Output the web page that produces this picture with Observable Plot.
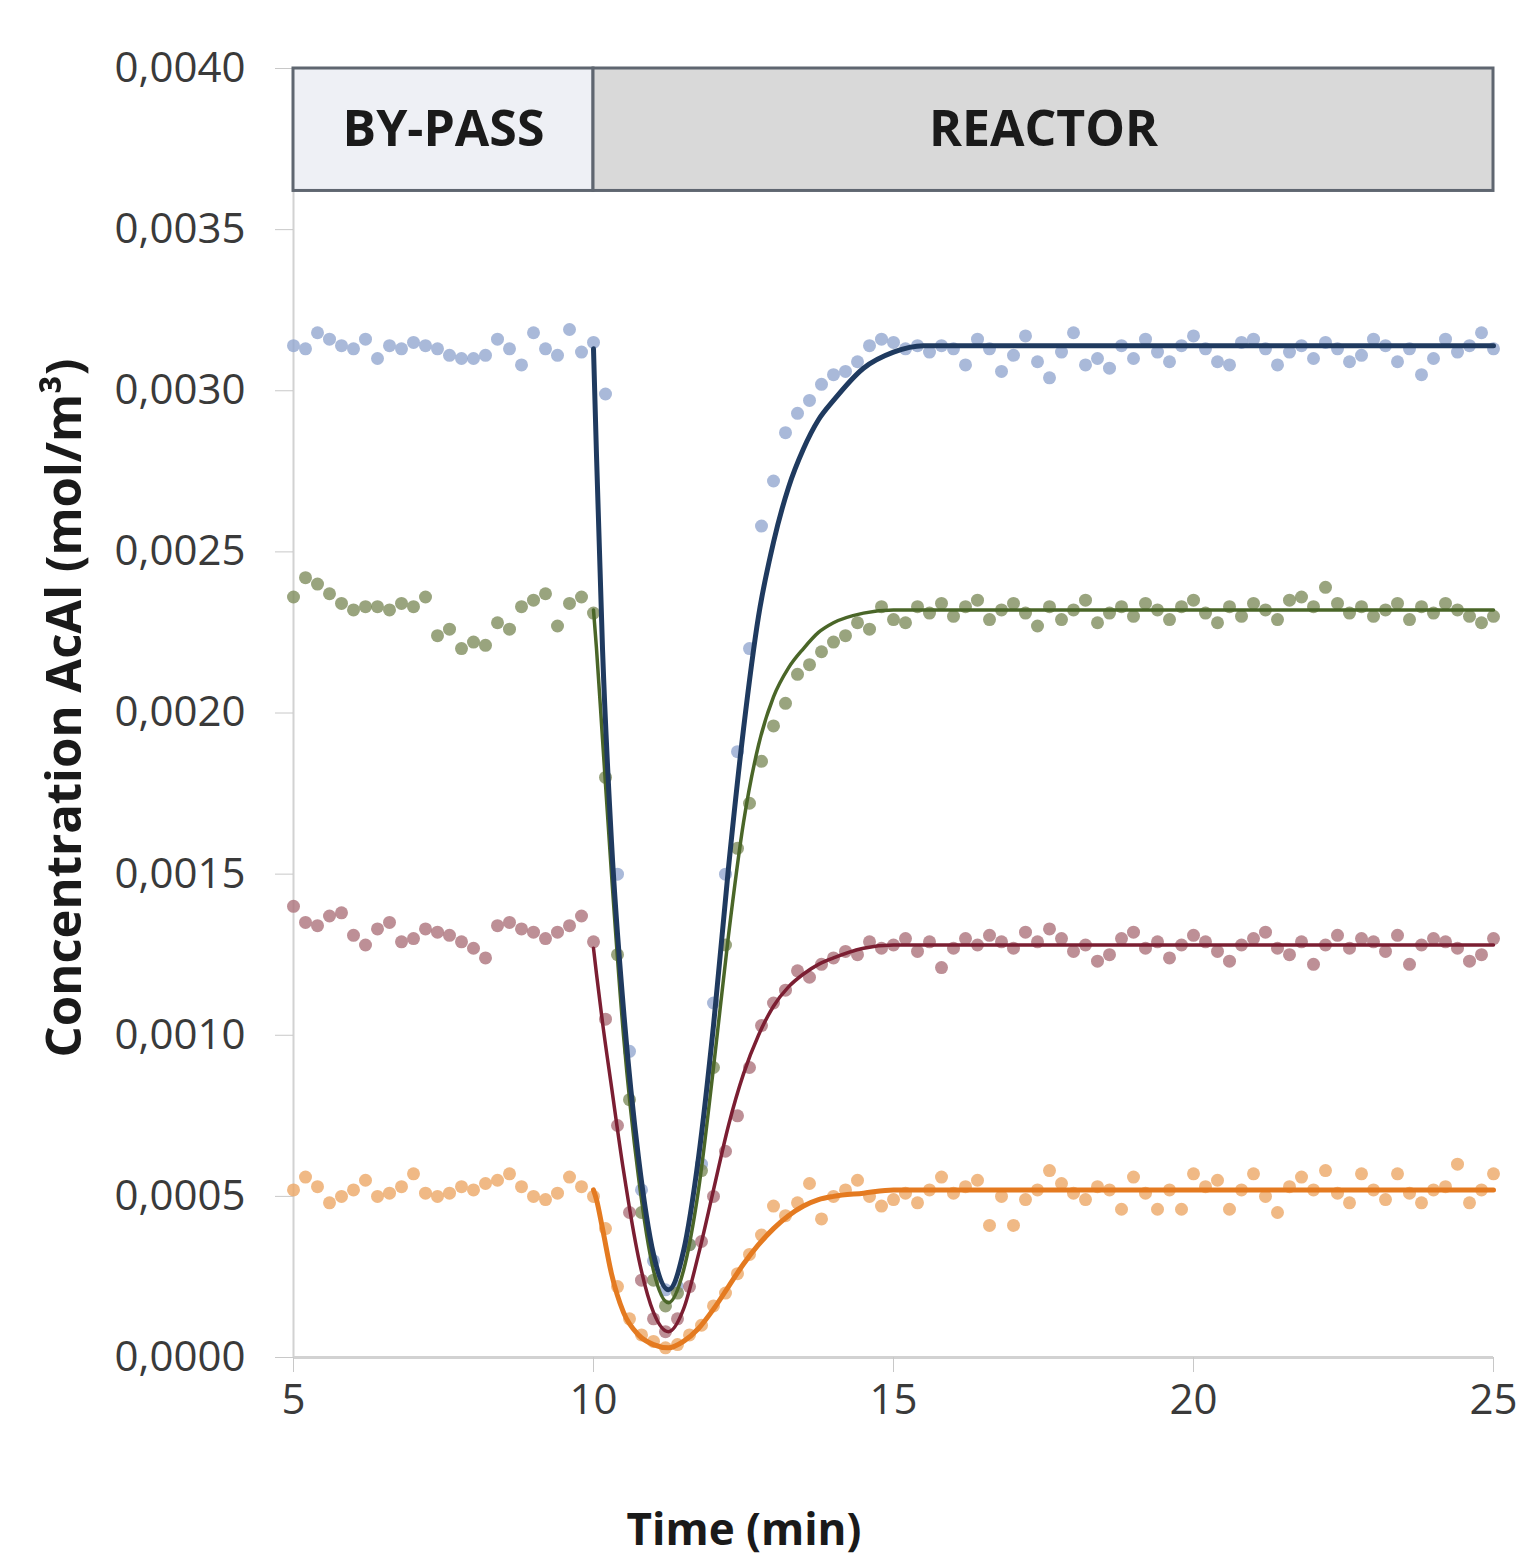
<!DOCTYPE html>
<html>
<head>
<meta charset="utf-8">
<script src="https://cdn.jsdelivr.net/npm/d3@7"></script>
<script src="https://cdn.jsdelivr.net/npm/@observablehq/plot@0.6"></script>
<style>
  body { margin: 0; background: #fff; }
  #wrap { position: relative; width: 1522px; height: 1562px; font-family: "Open Sans", sans-serif; background: #fff; overflow: hidden; }
  #chart { position: absolute; left: 0; top: 0; }
  #ylab { position: absolute; left: 62px; top: 708px; transform: translate(-50%, -50%) rotate(-90deg);
          font-weight: bold; font-size: 49px; line-height: 1; white-space: nowrap; color: #1a1a1a; }
  #xlab { position: absolute; left: 744px; top: 1528px; transform: translate(-50%, -50%);
          font-weight: bold; font-size: 44px; line-height: 1; white-space: nowrap; color: #1a1a1a; }
</style>
</head>
<body>
<div id="wrap">
  <div id="chart"></div>
  <div id="ylab">Concentration AcAl (mol/m³)</div>
  <div id="xlab">Time (min)</div>
</div>
<script>
// ---- data ----
const xTicks = [5, 10, 15, 20, 25];
const yTicks = [0, 0.0005, 0.0010, 0.0015, 0.0020, 0.0025, 0.0030, 0.0035, 0.0040];

const phaseLabels = ["BY-PASS", "REACTOR"];
const phaseStart = [5, 10];
const phaseEnd = [10, 25];
const phaseLow = 0.00362;
const phaseHigh = 0.0040;

// sampling times of the measured points (every 0.2 min, 5 -> 25)
const times = d3.range(101).map(i => +(5 + i * 0.2).toFixed(1));

const blueMeas = [
  0.00314, 0.00313, 0.00318, 0.00316, 0.00314, 0.00313, 0.00316, 0.00310, 0.00314, 0.00313,
  0.00315, 0.00314, 0.00313, 0.00311, 0.00310, 0.00310, 0.00311, 0.00316, 0.00313, 0.00308,
  0.00318, 0.00313, 0.00311, 0.00319, 0.00312, 0.00315,
  0.00299, 0.00150, 0.00095, 0.00052, 0.00030, 0.00021, 0.00022, 0.00035, 0.00060, 0.00110,
  0.00150, 0.00188, 0.00220, 0.00258, 0.00272, 0.00287, 0.00293, 0.00297, 0.00302, 0.00305,
  0.00306, 0.00309, 0.00314, 0.00316, 0.00315,
  0.00313, 0.00314, 0.00312, 0.00314, 0.00313, 0.00308, 0.00316, 0.00313, 0.00306, 0.00311,
  0.00317, 0.00309, 0.00304, 0.00312, 0.00318, 0.00308, 0.00310, 0.00307, 0.00314, 0.00310,
  0.00316, 0.00312, 0.00309, 0.00314, 0.00317, 0.00313, 0.00309, 0.00308, 0.00315, 0.00316,
  0.00313, 0.00308, 0.00312, 0.00314, 0.00310, 0.00315, 0.00313, 0.00309, 0.00311, 0.00316,
  0.00314, 0.00309, 0.00313, 0.00305, 0.00310, 0.00316, 0.00312, 0.00314, 0.00318, 0.00313
];
const greenMeas = [
  0.00236, 0.00242, 0.00240, 0.00237, 0.00234, 0.00232, 0.00233, 0.00233, 0.00232, 0.00234,
  0.00233, 0.00236, 0.00224, 0.00226, 0.00220, 0.00222, 0.00221, 0.00228, 0.00226, 0.00233,
  0.00235, 0.00237, 0.00227, 0.00234, 0.00236, 0.00231,
  0.00180, 0.00125, 0.00080, 0.00045, 0.00024, 0.00016, 0.00020, 0.00035, 0.00058, 0.00090,
  0.00128, 0.00158, 0.00172, 0.00185, 0.00196, 0.00203, 0.00212, 0.00215, 0.00219, 0.00222,
  0.00224, 0.00228, 0.00226, 0.00233, 0.00229,
  0.00228, 0.00233, 0.00231, 0.00234, 0.00230, 0.00233, 0.00235, 0.00229, 0.00232, 0.00234,
  0.00231, 0.00227, 0.00233, 0.00229, 0.00232, 0.00235, 0.00228, 0.00231, 0.00233, 0.00230,
  0.00234, 0.00232, 0.00229, 0.00233, 0.00235, 0.00231, 0.00228, 0.00233, 0.00230, 0.00234,
  0.00232, 0.00229, 0.00235, 0.00236, 0.00233, 0.00239, 0.00234, 0.00231, 0.00233, 0.00230,
  0.00232, 0.00234, 0.00229, 0.00233, 0.00231, 0.00234, 0.00232, 0.00230, 0.00228, 0.00230
];
const redMeas = [
  0.00140, 0.00135, 0.00134, 0.00137, 0.00138, 0.00131, 0.00128, 0.00133, 0.00135, 0.00129,
  0.00130, 0.00133, 0.00132, 0.00131, 0.00129, 0.00127, 0.00124, 0.00134, 0.00135, 0.00133,
  0.00132, 0.00130, 0.00132, 0.00134, 0.00137, 0.00129,
  0.00105, 0.00072, 0.00045, 0.00024, 0.00012, 0.00008, 0.00012, 0.00022, 0.00036, 0.00050,
  0.00064, 0.00075, 0.00090, 0.00103, 0.00110, 0.00114, 0.00120, 0.00118, 0.00122, 0.00124,
  0.00126, 0.00125, 0.00129, 0.00127, 0.00128,
  0.00130, 0.00126, 0.00129, 0.00121, 0.00127, 0.00130, 0.00128, 0.00131, 0.00129, 0.00127,
  0.00132, 0.00129, 0.00133, 0.00130, 0.00126, 0.00128, 0.00123, 0.00125, 0.00130, 0.00132,
  0.00127, 0.00129, 0.00124, 0.00128, 0.00131, 0.00129, 0.00126, 0.00123, 0.00128, 0.00130,
  0.00132, 0.00127, 0.00125, 0.00129, 0.00122, 0.00128, 0.00131, 0.00127, 0.00130, 0.00129,
  0.00126, 0.00131, 0.00122, 0.00128, 0.00130, 0.00129, 0.00127, 0.00123, 0.00125, 0.00130
];
const orangeMeas = [
  0.00052, 0.00056, 0.00053, 0.00048, 0.00050, 0.00052, 0.00055, 0.00050, 0.00051, 0.00053,
  0.00057, 0.00051, 0.00050, 0.00051, 0.00053, 0.00052, 0.00054, 0.00055, 0.00057, 0.00053,
  0.00050, 0.00049, 0.00051, 0.00056, 0.00053, 0.00050,
  0.00040, 0.00022, 0.00012, 0.00007, 0.00005, 0.00003, 0.00004, 0.00007, 0.00010, 0.00016,
  0.00020, 0.00026, 0.00032, 0.00038, 0.00047, 0.00044, 0.00048, 0.00054, 0.00043, 0.00050,
  0.00052, 0.00055, 0.00050, 0.00047, 0.00049,
  0.00051, 0.00048, 0.00052, 0.00056, 0.00051, 0.00053, 0.00055, 0.00041, 0.00050, 0.00041,
  0.00049, 0.00052, 0.00058, 0.00054, 0.00051, 0.00049, 0.00053, 0.00052, 0.00046, 0.00056,
  0.00051, 0.00046, 0.00052, 0.00046, 0.00057, 0.00053, 0.00055, 0.00046, 0.00052, 0.00057,
  0.00050, 0.00045, 0.00053, 0.00056, 0.00052, 0.00058, 0.00051, 0.00048, 0.00057, 0.00052,
  0.00049, 0.00057, 0.00051, 0.00048, 0.00052, 0.00053, 0.00060, 0.00048, 0.00052, 0.00057
];

// model (fitted) curves
const fitTimes = [10, 10.05, 10.15, 10.3, 10.5, 10.75, 11, 11.25, 11.5, 11.75, 12, 12.25, 12.5, 12.75, 13, 13.25, 13.5, 13.75, 14, 14.5, 15, 15.5, 16, 25];
const blueFit = [0.00313, 0.00280, 0.00220, 0.00160, 0.00108, 0.00062, 0.00032, 0.00021, 0.00033, 0.00062, 0.00103, 0.00152, 0.00195, 0.00230, 0.00253, 0.00270, 0.00282, 0.00291, 0.00297, 0.00307, 0.00312, 0.00314, 0.00314, 0.00314];
const greenFit = [0.00232, 0.00220, 0.00192, 0.00150, 0.00100, 0.00056, 0.00027, 0.00017, 0.00027, 0.00052, 0.00090, 0.00131, 0.00166, 0.00190, 0.00205, 0.00214, 0.00220, 0.00225, 0.00228, 0.00231, 0.00232, 0.00232, 0.00232, 0.00232];
const redFit = [0.00127, 0.00119, 0.00104, 0.00084, 0.00058, 0.00031, 0.00014, 0.00008, 0.00015, 0.00032, 0.00052, 0.00072, 0.00088, 0.00100, 0.00109, 0.00115, 0.00119, 0.00122, 0.00124, 0.00127, 0.00128, 0.00128, 0.00128, 0.00128];
const orangeFit = [0.00052, 0.00049, 0.00040, 0.00026, 0.00014, 0.00007, 0.00004, 0.00003, 0.00005, 0.00009, 0.00015, 0.00022, 0.00029, 0.00035, 0.00040, 0.00044, 0.00047, 0.00049, 0.00050, 0.00051, 0.00052, 0.00052, 0.00052, 0.00052];

// ---- styling ----
const series = [
  {meas: blueMeas,   fit: blueFit,   dot: "#93a8cf", line: "#1f3a5f", w: 5},
  {meas: greenMeas,  fit: greenFit,  dot: "#7f8d5e", line: "#4a6628", w: 3.5},
  {meas: redMeas,    fit: redFit,    dot: "#ad737c", line: "#7b1e32", w: 3.5},
  {meas: orangeMeas, fit: orangeFit, dot: "#eca867", line: "#e47a20", w: 5}
];

const phases = phaseLabels.map((label, i) => ({label, x1: phaseStart[i], x2: phaseEnd[i], y1: phaseLow, y2: phaseHigh}));
const phaseFill = ["#eef0f5", "#d9d9d9"];
const fmt = d => d3.format(".4f")(d).replace(".", ",");

const marks = [];
// measured points
for (const s of series) {
  const pts = times.map((t, i) => ({t, v: s.meas[i]}));
  marks.push(Plot.dot(pts, {x: "t", y: "v", r: 6.5, fill: s.dot, fillOpacity: 0.8}));
}
// fitted curves
for (const s of [...series].reverse()) {
  const pts = fitTimes.map((t, i) => ({t, v: s.fit[i]}));
  marks.push(Plot.line(pts, {x: "t", y: "v", stroke: s.line, strokeWidth: s.w, curve: "monotone-x"}));
}

const chart = Plot.plot({
  width: 1522,
  height: 1562,
  marginLeft: 293,
  marginRight: 29,
  marginTop: 68,
  marginBottom: 205,
  style: {fontFamily: "Open Sans, sans-serif", background: "white"},
  x: {domain: [5, 25]},
  y: {domain: [0, 0.004]},
  marks: [
    Plot.ruleX([5], {y1: 0, y2: 0.004, stroke: "#d2d2d2", strokeWidth: 2}),
    Plot.ruleY([0], {stroke: "#d2d2d2", strokeWidth: 3}),
    Plot.axisY({ticks: yTicks, tickFormat: fmt, tickSize: 18, tickPadding: 30, fontSize: 42,
                stroke: "#c8c8c8", fill: "#3a3a3a", label: null, style: {letterSpacing: "1.5px"}}),
    Plot.axisX({ticks: xTicks, tickSize: 15, tickPadding: 12, fontSize: 42,
                stroke: "#c8c8c8", fill: "#3a3a3a", label: null}),
    ...phases.map((p, i) => Plot.rect([p], {x1: "x1", x2: "x2", y1: "y1", y2: "y2", fill: phaseFill[i], stroke: "#5f6670", strokeWidth: 3})),
    Plot.text(phases, {x: d => (d.x1 + d.x2) / 2, y: d => (d.y1 + d.y2) / 2, text: "label",
                       fontSize: 50, fontWeight: "bold", fill: "#1a1a1a"}),
    ...marks
  ]
});
document.getElementById("chart").appendChild(chart);
</script>
</body>
</html>
